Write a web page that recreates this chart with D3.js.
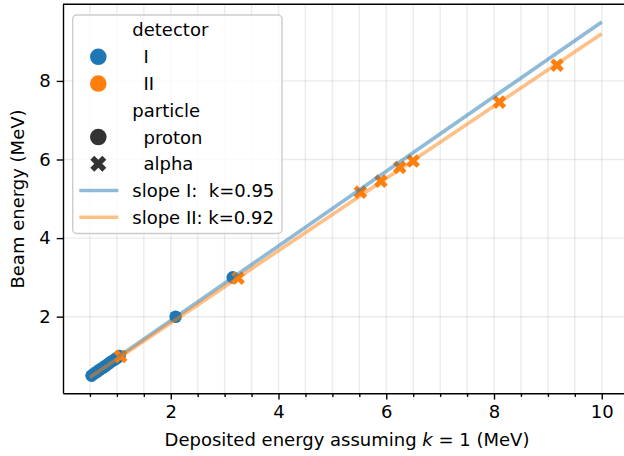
<!DOCTYPE html>
<html>
<head>
<meta charset="utf-8">
<script src="https://cdn.jsdelivr.net/npm/d3@7"></script>
<style>
  body { margin: 0; background: #fff; }
  svg { display: block; font-family: "DejaVu Sans", sans-serif; }
</style>
</head>
<body>
<svg id="chart" width="624" height="456"></svg>
<script>
// detector I, protons: beam energy vs deposited energy (k = 1)
const protonBeamI = [0.5, 0.55, 0.6, 0.65, 0.7, 0.75, 0.8, 0.85, 0.9, 0.95, 1.0, 2.0, 3.0];
const protonDepI  = [0.53, 0.58, 0.63, 0.68, 0.74, 0.79, 0.84, 0.89, 0.95, 1.0, 1.05, 2.09, 3.15];
// detector II, alphas
const alphaBeamII = [0.99, 2.98, 5.17, 5.45, 5.80, 5.96, 7.46, 8.40];
const alphaDepII  = [1.07, 3.25, 5.52, 5.90, 6.25, 6.50, 8.10, 9.17];
// fitted slopes
const slopeNames = ["slope I:  k=0.95", "slope II: k=0.92"];
const slopeK = [0.95, 0.92];
const lineX = [0.5, 10];
const xTicks = [2, 4, 6, 8, 10];
const yTicks = [2, 4, 6, 8];

const blue = "#1f77b4", orange = "#ff7f0e";

const svg = d3.select("#chart");
const x = d3.scaleLinear().domain([0, 10.5]).range([63, 628.7]);
const y = d3.scaleLinear().domain([0.05, 9.95]).range([393.3, 4.3]);

const minorX = d3.range(0.5, 10.5, 0.5);

// grid
const grid = svg.append("g");
grid.selectAll("line.vx").data(minorX).enter().append("line")
  .attr("x1", d => x(d)).attr("x2", d => x(d))
  .attr("y1", y.range()[0]).attr("y2", y.range()[1])
  .attr("stroke", "#b0b0b0").attr("stroke-opacity", 0.25).attr("stroke-width", 1.4);
grid.selectAll("line.hy").data(yTicks).enter().append("line")
  .attr("y1", d => y(d)).attr("y2", d => y(d))
  .attr("x1", x.range()[0]).attr("x2", x.range()[1])
  .attr("stroke", "#b0b0b0").attr("stroke-opacity", 0.25).attr("stroke-width", 1.4);

// points
const circleR = 6.3;
const crossSym = d3.symbol().type(d3.symbolCross).size(115);

svg.append("g").selectAll("circle")
  .data(d3.zip(protonDepI, protonBeamI)).enter().append("circle")
  .attr("cx", d => x(d[0])).attr("cy", d => y(d[1]))
  .attr("r", circleR).attr("fill", blue);

svg.append("g").selectAll("path")
  .data(d3.zip(alphaDepII, alphaBeamII)).enter().append("path")
  .attr("d", crossSym)
  .attr("transform", d => `translate(${x(d[0])},${y(d[1])}) rotate(45)`)
  .attr("fill", orange);

// slope lines
const colors = [blue, orange];
const line = d3.line().x(d => x(d[0])).y(d => y(d[1]));
slopeK.forEach((k, i) => {
  svg.append("path")
    .datum(lineX.map(v => [v, k * v]))
    .attr("d", line)
    .attr("fill", "none")
    .attr("stroke", colors[i]).attr("stroke-opacity", 0.5)
    .attr("stroke-width", 3.6);
});

// axes
svg.append("g")
  .attr("transform", `translate(0,${y.range()[0]})`)
  .call(d3.axisBottom(x).tickValues(xTicks).tickFormat(d3.format("d"))
    .tickSize(6.3).tickPadding(6).tickSizeOuter(0));
svg.append("g")
  .attr("transform", `translate(0,${y.range()[0]})`)
  .call(d3.axisBottom(x).tickValues(minorX.filter(v => v % 2 !== 0))
    .tickSize(3.6).tickFormat("").tickSizeOuter(0))
  .select(".domain").remove();
svg.append("g")
  .attr("transform", `translate(${x.range()[0]},0)`)
  .call(d3.axisLeft(y).tickValues(yTicks).tickFormat(d3.format("d"))
    .tickSize(6.3).tickPadding(6).tickSizeOuter(0));
// top spine
svg.append("line")
  .attr("x1", x.range()[0]).attr("x2", x.range()[1])
  .attr("y1", y.range()[1]).attr("y2", y.range()[1])
  .attr("stroke", "#000").attr("stroke-width", 1.4);

svg.selectAll(".tick text").attr("font-size", 18).attr("font-family", "DejaVu Sans").attr("fill", "#000");
svg.selectAll(".tick line").attr("stroke-width", 1.4);
svg.selectAll(".domain").attr("stroke-width", 1.4);

// axis labels
const xl = svg.append("text")
  .attr("x", 347).attr("y", 446).attr("text-anchor", "middle")
  .attr("font-size", 18);
xl.append("tspan").text("Deposited energy assuming ");
xl.append("tspan").attr("font-style", "italic").text("k");
xl.append("tspan").text(" = 1 (MeV)");

svg.append("text")
  .attr("transform", "translate(24,199) rotate(-90)")
  .attr("text-anchor", "middle").attr("font-size", 18)
  .text("Beam energy (MeV)");

// legend
const lg = svg.append("g");
lg.append("rect")
  .attr("x", 72.7).attr("y", 15).attr("width", 209.3).attr("height", 218.5)
  .attr("rx", 4).attr("fill", "#fff").attr("fill-opacity", 0.8)
  .attr("stroke", "#cccccc").attr("stroke-width", 1.4);

const legendRows = [
  {label: "detector", kind: "title"},
  {label: "I", kind: "circle", color: blue},
  {label: "II", kind: "circle", color: orange},
  {label: "particle", kind: "title"},
  {label: "proton", kind: "circle", color: "#333333"},
  {label: "alpha", kind: "cross", color: "#333333"},
  {label: slopeNames[0], kind: "line", color: blue},
  {label: slopeNames[1], kind: "line", color: orange}
];
const rowY = i => 30 + i * 26.76;
const legendCross = d3.symbol().type(d3.symbolCross).size(160);

legendRows.forEach((r, i) => {
  const cy = rowY(i);
  if (r.kind === "circle") {
    lg.append("circle").attr("cx", 98.3).attr("cy", cy).attr("r", 8.3).attr("fill", r.color);
  } else if (r.kind === "cross") {
    lg.append("path").attr("d", legendCross)
      .attr("transform", `translate(98.3,${cy}) rotate(45)`).attr("fill", r.color);
  } else if (r.kind === "line") {
    lg.append("line").attr("x1", 79.3).attr("x2", 118.3).attr("y1", cy).attr("y2", cy)
      .attr("stroke", r.color).attr("stroke-opacity", 0.5).attr("stroke-width", 3.6);
  }
  const tx = (r.kind === "title" || r.kind === "line") ? 132.3 : 143.5;
  lg.append("text").attr("x", tx).attr("y", cy).attr("dy", "0.36em")
    .attr("font-size", 18).style("white-space", "pre").text(r.label);
});
</script>
</body>
</html>
